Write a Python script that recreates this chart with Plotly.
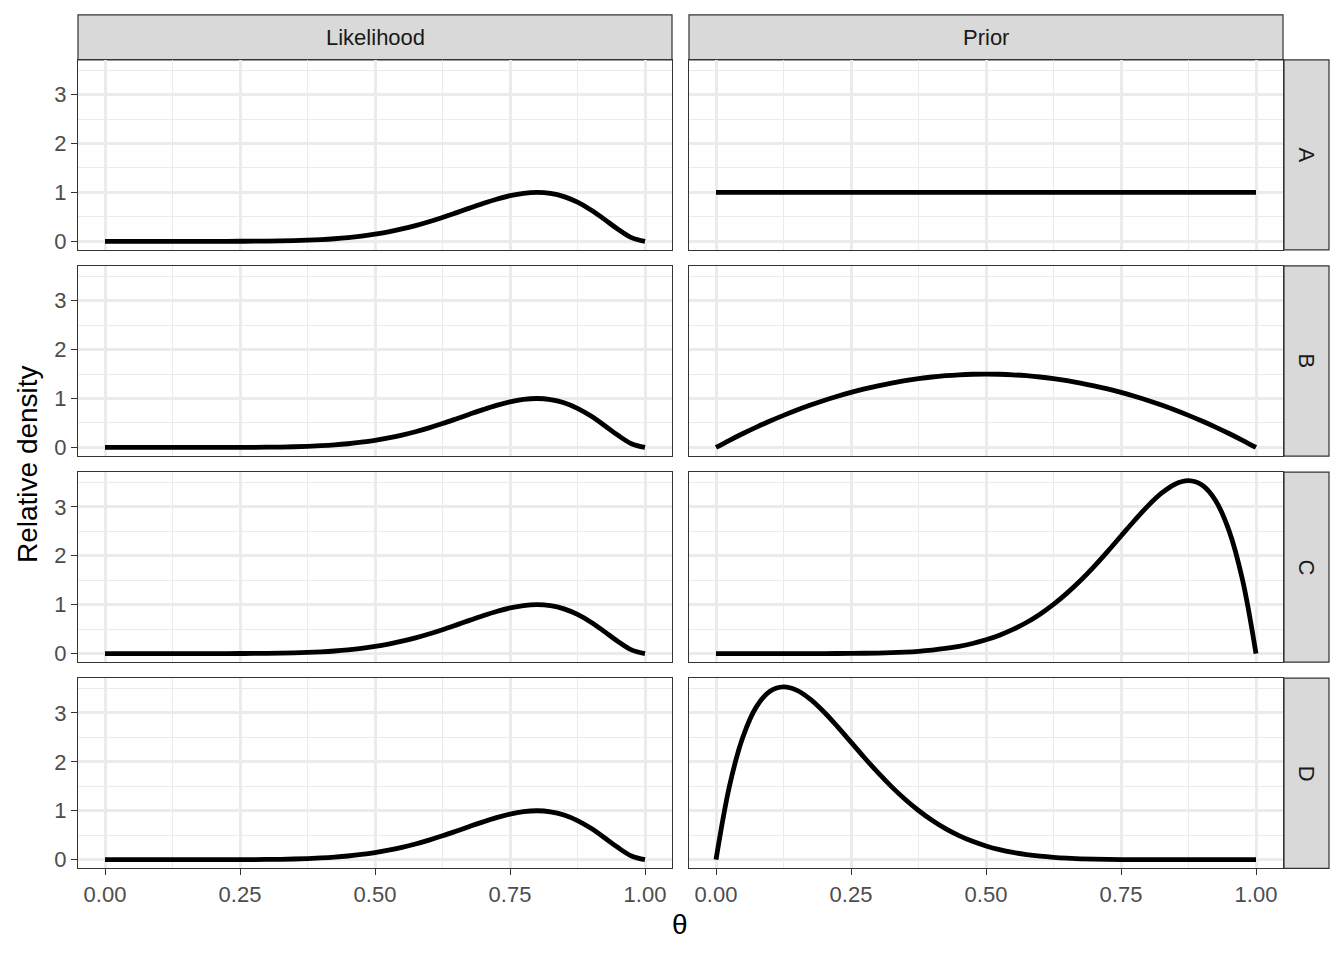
import plotly.graph_objects as go
from plotly.subplots import make_subplots

# theta grid and curves
theta = [0.000, 0.025, 0.050, 0.075, 0.100, 0.125, 0.150, 0.175, 0.200, 0.225,
         0.250, 0.275, 0.300, 0.325, 0.350, 0.375, 0.400, 0.425, 0.450, 0.475,
         0.500, 0.525, 0.550, 0.575, 0.600, 0.625, 0.650, 0.675, 0.700, 0.725,
         0.750, 0.775, 0.800, 0.825, 0.850, 0.875, 0.900, 0.925, 0.950, 0.975,
         1.000]

likelihood = [0, 0, 0, 0, 0, 0, 0, 0.0001, 0.0002, 0.0006,
              0.0013, 0.0026, 0.0048, 0.0085, 0.0142, 0.0228, 0.0352, 0.0524, 0.0758, 0.1064,
              0.1455, 0.1940, 0.2527, 0.3216, 0.4005, 0.4879, 0.5816, 0.6783, 0.7731, 0.8602,
              0.9324, 0.9817, 1.0000, 0.9793, 0.9136, 0.8000, 0.6414, 0.4492, 0.2471, 0.0761,
              0]

prior_a = [1] * 41

prior_b = [0, 0.146, 0.285, 0.416, 0.540, 0.656, 0.765, 0.866, 0.960, 1.046,
           1.125, 1.196, 1.260, 1.316, 1.365, 1.406, 1.440, 1.466, 1.485, 1.496,
           1.500, 1.496, 1.485, 1.466, 1.440, 1.406, 1.365, 1.316, 1.260, 1.196,
           1.125, 1.046, 0.960, 0.866, 0.765, 0.656, 0.540, 0.416, 0.285, 0.146,
           0]

prior_c = [0, 0, 0, 0, 0, 0, 0.0001, 0.0003, 0.0007, 0.0016,
           0.0033, 0.0062, 0.0110, 0.0186, 0.0301, 0.0469, 0.0708, 0.1037, 0.1480, 0.2062,
           0.2813, 0.3760, 0.4933, 0.6359, 0.8062, 1.0058, 1.2354, 1.4940, 1.7789, 2.0846,
           2.4027, 2.7203, 3.0199, 3.2775, 3.4622, 3.5343, 3.4437, 3.1289, 2.5140, 1.5077,
           0]

prior_d = [0, 1.5077, 2.5140, 3.1289, 3.4437, 3.5343, 3.4622, 3.2775, 3.0199, 2.7203,
           2.4027, 2.0846, 1.7789, 1.4940, 1.2354, 1.0058, 0.8062, 0.6359, 0.4933, 0.3760,
           0.2813, 0.2062, 0.1480, 0.1037, 0.0708, 0.0469, 0.0301, 0.0186, 0.0110, 0.0062,
           0.0033, 0.0016, 0.0007, 0.0003, 0.0001, 0, 0, 0, 0, 0,
           0]

col_labels = ["Likelihood", "Prior"]
row_labels = ["A", "B", "C", "D"]
priors = [prior_a, prior_b, prior_c, prior_d]

# page has an 8px body margin, so the figure is 16px smaller and shifted
OFF = 8
W, H = 1344 - 2 * OFF, 960 - 2 * OFF
col_px = [(78, 672), (689, 1283)]
row_px = [(60, 251), (267, 458), (474, 665), (681, 872)]

def px(x):
    return (x - OFF) / W

def py(y):
    return 1 - (y - OFF) / H

FONT = "Liberation Sans"
fig = make_subplots(rows=4, cols=2)

ymax = max(max(likelihood), max(prior_b), max(prior_c), max(prior_d), 1)
yr = [-0.05 * ymax, 1.05 * ymax]

for r in range(4):
    for c in range(2):
        yvals = likelihood if c == 0 else priors[r]
        fig.add_trace(go.Scatter(x=theta, y=yvals, mode="lines",
                                 line=dict(color="black", width=4.8, shape="spline", smoothing=1.0),
                                 showlegend=False, hoverinfo="skip"),
                      row=r + 1, col=c + 1)
        fig.update_xaxes(domain=[px(col_px[c][0]), px(col_px[c][1])],
                         range=[-0.05, 1.05], tickvals=[0, 0.25, 0.5, 0.75, 1.0],
                         ticktext=["0.00", "0.25", "0.50", "0.75", "1.00"],
                         showticklabels=(r == 3), ticks="outside" if r == 3 else "",
                         ticklen=6, tickwidth=1.2, tickcolor="#333333",
                         showgrid=True, gridcolor="#EBEBEB", gridwidth=2.6,
                         minor=dict(tickvals=[0.125, 0.375, 0.625, 0.875], showgrid=True,
                                    gridcolor="#EBEBEB", gridwidth=1.4),
                         showline=True, linecolor="#333333", linewidth=1.2, mirror=True,
                         zeroline=False,
                         tickfont=dict(family=FONT, size=22, color="#4D4D4D"),
                         row=r + 1, col=c + 1)
        fig.update_yaxes(domain=[py(row_px[r][1]), py(row_px[r][0])],
                         range=yr, tickvals=[0, 1, 2, 3],
                         showticklabels=(c == 0), ticks="outside" if c == 0 else "",
                         ticklen=6, tickwidth=1.2, tickcolor="#333333",
                         showgrid=True, gridcolor="#EBEBEB", gridwidth=2.6,
                         minor=dict(tickvals=[0.5, 1.5, 2.5, 3.5], showgrid=True,
                                    gridcolor="#EBEBEB", gridwidth=1.4),
                         showline=True, linecolor="#333333", linewidth=1.2, mirror=True,
                         zeroline=False,
                         tickfont=dict(family=FONT, size=22, color="#4D4D4D"),
                         row=r + 1, col=c + 1)

# facet strips
for c, lab in enumerate(col_labels):
    x0, x1 = col_px[c]
    fig.add_shape(type="rect", xref="paper", yref="paper",
                  x0=px(x0), x1=px(x1), y0=py(60), y1=py(15),
                  fillcolor="#D9D9D9", line=dict(color="#333333", width=1.2), layer="below")
    fig.add_annotation(xref="paper", yref="paper", x=px((x0 + x1) / 2), y=py(37.5),
                       xanchor="center", yanchor="middle", text=lab, showarrow=False,
                       font=dict(family=FONT, size=22, color="#1A1A1A"))

for r, lab in enumerate(row_labels):
    y0, y1 = row_px[r]
    fig.add_shape(type="rect", xref="paper", yref="paper",
                  x0=px(1284), x1=px(1329), y0=py(y1), y1=py(y0),
                  fillcolor="#D9D9D9", line=dict(color="#333333", width=1.2), layer="below")
    fig.add_annotation(xref="paper", yref="paper", x=px(1306.5), y=py((y0 + y1) / 2),
                       xanchor="center", yanchor="middle", text=lab, showarrow=False,
                       textangle=90,
                       font=dict(family=FONT, size=22, color="#1A1A1A"))

# axis titles
fig.add_annotation(xref="paper", yref="paper", x=px(680), y=py(928), text="θ",
                   xanchor="center", yanchor="middle", showarrow=False,
                   font=dict(family=FONT, size=28, color="black"))
fig.add_annotation(xref="paper", yref="paper", x=px(27), y=py(466), text="Relative density",
                   xanchor="center", yanchor="middle", showarrow=False, textangle=-90,
                   font=dict(family=FONT, size=28, color="black"))

fig.update_layout(width=W, height=H, margin=dict(l=0, r=0, t=0, b=0),
                  plot_bgcolor="white", paper_bgcolor="white",
                  font=dict(family=FONT))

fig.write_html("out.html")
